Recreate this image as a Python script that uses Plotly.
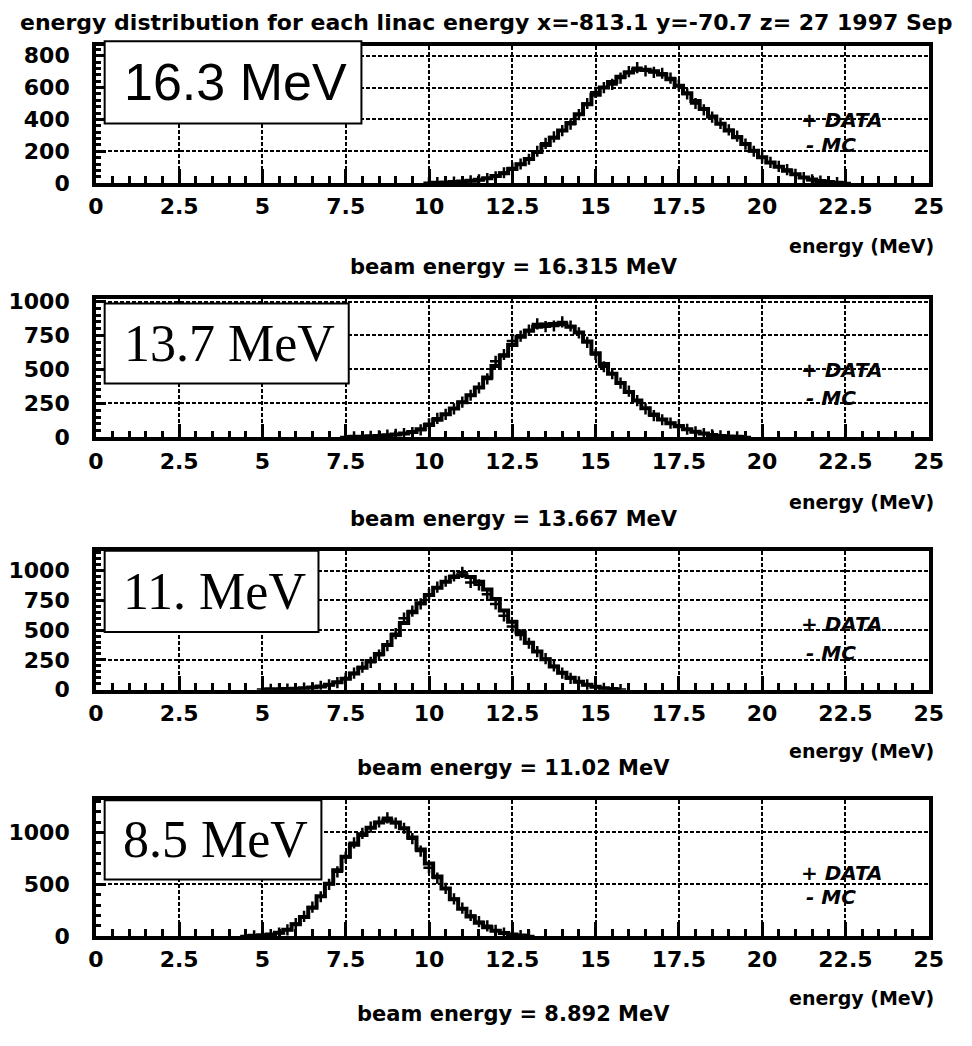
import numpy as np
import plotly.graph_objects as go

W, H = 972, 1046
BIN = 0.25

# ---- data (bin contents, bin width 0.25 MeV) ----
p1_start = 10.0
p1_data = [2, 3, 5, 6, 10, 14, 20, 28, 40, 65, 95, 120, 150, 200, 250, 290, 330, 370, 430, 500,
           570, 600, 620, 660, 700, 725, 705, 695, 690, 660, 615, 560, 500, 460, 415, 375, 335, 295,
           245, 200, 160, 130, 105, 85, 55, 35, 20, 12, 6, 3, 1]
p1_mc = [2, 3, 4, 7, 10, 15, 21, 30, 44, 62, 88, 118, 152, 195, 240, 285, 330, 378, 432, 495,
         555, 600, 635, 668, 695, 712, 712, 702, 682, 652, 612, 565, 515, 465, 418, 373, 330, 288,
         245, 203, 163, 130, 102, 78, 55, 36, 22, 13, 7, 3, 1]

p2_start = 7.5
p2_data = [3, 4, 6, 8, 12, 16, 22, 28, 36, 55, 100, 140, 170, 210, 260, 310, 365, 430, 560, 610,
           710, 745, 790, 835, 815, 820, 850, 820, 770, 700, 610, 520, 470, 400, 340, 270, 210, 160,
           130, 105, 90, 60, 40, 28, 18, 12, 7, 4, 2]
p2_mc = [3, 4, 5, 8, 11, 15, 21, 28, 40, 60, 92, 130, 170, 212, 258, 310, 368, 440, 525, 600,
         680, 740, 785, 815, 830, 835, 832, 815, 772, 705, 620, 540, 468, 400, 335, 272, 215, 168,
         132, 104, 82, 60, 42, 28, 18, 11, 7, 4, 2]

p3_start = 5.0
p3_data = [2, 3, 4, 6, 9, 13, 18, 28, 40, 60, 95, 140, 190, 230, 290, 370, 470, 600, 660, 720,
           800, 860, 910, 955, 985, 900, 880, 800, 720, 620, 530, 460, 390, 320, 260, 200, 140, 95,
           65, 40, 25, 12, 5, 2]
p3_mc = [2, 3, 4, 6, 9, 13, 19, 28, 42, 62, 92, 135, 185, 240, 300, 375, 460, 560, 650, 725,
         795, 855, 905, 945, 960, 945, 905, 840, 760, 665, 570, 480, 395, 320, 255, 195, 142, 100,
         67, 42, 25, 13, 6, 2]

p4_start = 4.5
p4_data = [2, 4, 8, 15, 30, 60, 120, 190, 280, 380, 500, 620, 760, 900, 990, 1050, 1100, 1140,
           1090, 1040, 940, 820, 660, 560, 460, 360, 270, 200, 140, 100, 55, 30, 14, 6, 2]
p4_mc = [2, 4, 8, 16, 32, 62, 115, 185, 275, 385, 505, 635, 765, 880, 975, 1045, 1095, 1115,
         1095, 1040, 950, 835, 700, 575, 460, 355, 265, 190, 130, 85, 52, 30, 15, 6, 2]

x_ticks = [0, 2.5, 5, 7.5, 10, 12.5, 15, 17.5, 20, 22.5, 25]
x_ticklabels = ["0", "2.5", "5", "7.5", "10", "12.5", "15", "17.5", "20", "22.5", "25"]

labels = ["16.3 MeV", "13.7 MeV", "11. MeV", "8.5 MeV"]
beam_labels = ["beam energy = 16.315 MeV", "beam energy = 13.667 MeV",
               "beam energy = 11.02 MeV", "beam energy = 8.892 MeV"]
title_text = "energy distribution for each linac energy x=-813.1 y=-70.7 z= 27 1997 Sep"

# ---- layout geometry (pixels) ----
panels = [
    dict(start=p1_start, data=p1_data, mc=p1_mc, top=37, bot=177, ymax=860, dt=200,
         box=(99, 362, 32, 116), lfont="Liberation Sans", beam_y=263, en_y=241, dy=112, my=138),
    dict(start=p2_start, data=p2_data, mc=p2_mc, top=296, bot=437, ymax=1015, dt=250,
         box=(99, 349, 300, 382), lfont="Liberation Serif", beam_y=520, en_y=503, dy=368, my=397),
    dict(start=p3_start, data=p3_data, mc=p3_mc, top=553, bot=695, ymax=1165, dt=250,
         box=(99, 318, 553, 636), lfont="Liberation Serif", beam_y=775, en_y=758, dy=628, my=657),
    dict(start=p4_start, data=p4_data, mc=p4_mc, top=808, bot=947, ymax=1310, dt=500,
         box=(99, 321, 808, 889), lfont="Liberation Serif", beam_y=1027, en_y=1010, dy=882, my=907),
]

X0, X1 = 90, 943


def px(x):
    return x / W


def py(y):
    return 1 - y / H


fig = go.Figure()
layout = dict(width=W, height=H, margin=dict(l=0, r=0, t=0, b=0),
              paper_bgcolor="white", plot_bgcolor="white", showlegend=False)
shapes = []
annotations = []

tickfont = dict(family="DejaVu Sans", size=22, color="black", weight="bold")

for i, p in enumerate(panels):
    n = i + 1
    xa = "x" if n == 1 else f"x{n}"
    ya = "y" if n == 1 else f"y{n}"
    centers = p["start"] + BIN * np.arange(len(p["data"]))
    fig.add_trace(go.Scatter(x=centers, y=p["mc"], mode="lines", line_shape="hvh",
                             line=dict(color="black", width=4), xaxis=xa, yaxis=ya, name="MC"))
    fig.add_trace(go.Scatter(x=centers, y=p["data"], mode="markers",
                             marker=dict(symbol="cross-thin", size=8, color="black",
                                         line=dict(color="black", width=2.5)),
                             xaxis=xa, yaxis=ya, name="DATA"))
    axkey = "xaxis" if n == 1 else f"xaxis{n}"
    aykey = "yaxis" if n == 1 else f"yaxis{n}"
    layout[axkey] = dict(
        domain=[px(X0), px(X1)], anchor=ya, range=[0, 25],
        tickmode="array", tickvals=x_ticks, ticktext=x_ticklabels,
        ticks="inside", ticklen=14, tickwidth=2.5, tickcolor="black",
        minor=dict(dtick=0.5, tick0=0, ticks="inside", ticklen=7, tickwidth=2.5,
                   tickcolor="black", showgrid=False),
        showline=True, linewidth=3.5, linecolor="black", mirror=True,
        showgrid=True, gridcolor="black", gridwidth=1.6, griddash="4px,2px",
        zeroline=False, tickfont=tickfont, ticklabelstandoff=1)
    yticks = list(range(0, p["ymax"] + 1, p["dt"]))
    layout[aykey] = dict(
        domain=[py(p["bot"]), py(p["top"])], anchor=xa, range=[0, p["ymax"]],
        tickmode="array", tickvals=yticks, ticktext=[str(v) for v in yticks],
        ticks="inside", ticklen=10, tickwidth=2.5, tickcolor="black",
        minor=dict(dtick=p["dt"] / 5, ticks="inside", ticklen=5, tickwidth=2.5,
                   tickcolor="black", showgrid=False),
        showline=True, linewidth=3.5, linecolor="black", mirror=True,
        showgrid=True, gridcolor="black", gridwidth=1.6, griddash="4px,2px",
        zeroline=False, tickfont=tickfont, ticklabelstandoff=18)

    bx0, bx1, by0, by1 = p["box"]
    shapes.append(dict(type="rect", xref="paper", yref="paper",
                       x0=px(bx0), x1=px(bx1), y0=py(by1), y1=py(by0),
                       fillcolor="white", line=dict(color="black", width=2), layer="above"))
    annotations.append(dict(text=labels[i], xref="paper", yref="paper",
                            x=px((bx0 + bx1) / 2 + 3), y=py((by0 + by1) / 2),
                            xanchor="center", yanchor="middle", showarrow=False,
                            font=dict(family=p["lfont"], size=52, color="black")))
    annotations.append(dict(text=beam_labels[i], xref="paper", yref="paper",
                            x=px(518), y=py(p["beam_y"]), xanchor="center", yanchor="middle",
                            showarrow=False,
                            font=dict(family="DejaVu Sans", size=21, color="black", weight="bold")))
    annotations.append(dict(text="energy (MeV)", xref="paper", yref="paper",
                            x=px(874), y=py(p["en_y"]), xanchor="center", yanchor="middle",
                            showarrow=False,
                            font=dict(family="DejaVu Sans", size=19, color="black", weight="bold")))
    annotations.append(dict(text="+ DATA", xref="paper", yref="paper",
                            x=px(810), y=py(p["dy"]), xanchor="left", yanchor="middle",
                            showarrow=False,
                            font=dict(family="DejaVu Sans", size=20, color="black",
                                      weight="bold", style="italic")))
    annotations.append(dict(text="- MC", xref="paper", yref="paper",
                            x=px(815), y=py(p["my"]), xanchor="left", yanchor="middle",
                            showarrow=False,
                            font=dict(family="DejaVu Sans", size=20, color="black",
                                      weight="bold", style="italic")))

annotations.append(dict(text=title_text, xref="paper", yref="paper",
                        x=px(490), y=py(13), xanchor="center", yanchor="middle", showarrow=False,
                        font=dict(family="DejaVu Sans", size=22, color="black", weight="bold")))

layout["shapes"] = shapes
layout["annotations"] = annotations
fig.update_layout(**layout)
fig.write_html("out.html")
